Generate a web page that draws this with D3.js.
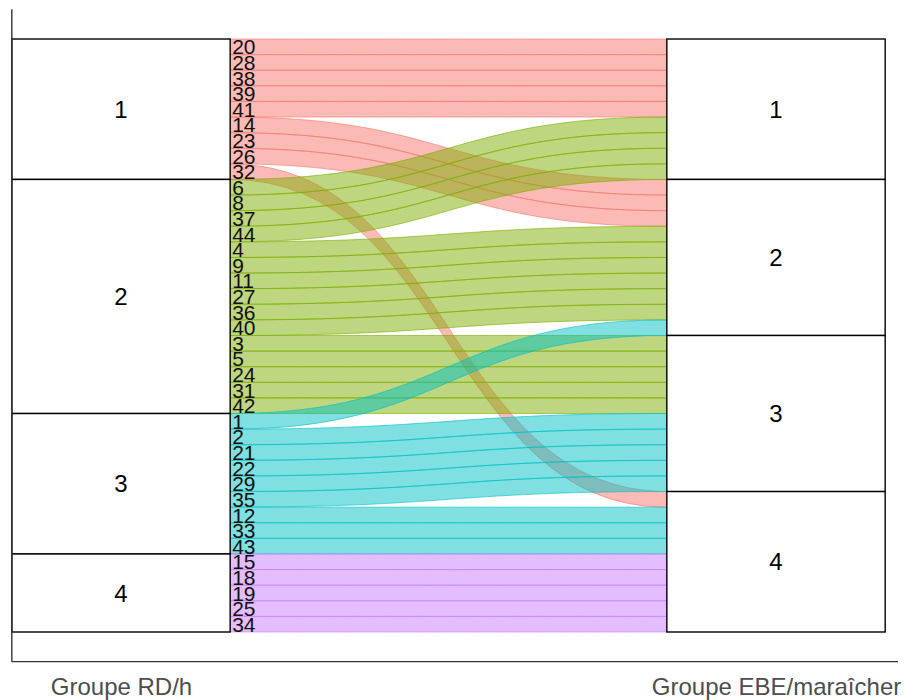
<!DOCTYPE html>
<html>
<head>
<meta charset="utf-8">
<script src="https://cdn.jsdelivr.net/npm/d3@7"></script>
<style>
  html, body { margin: 0; padding: 0; background: #fff; }
  svg { display: block; font-family: Arial, "Liberation Sans", sans-serif; }
</style>
</head>
<body>
<div id="chart"></div>
<script>
// ---- data: one row per grower, in left-stratum order ----
var axisNames = ["Groupe RD/h", "Groupe EBE/maraîcher"];
var strata = ["1", "2", "3", "4"];
var ids = [20, 28, 38, 39, 41, 14, 23, 26, 32,
           6, 8, 37, 44, 4, 9, 11, 27, 36, 40, 3, 5, 24, 31, 42,
           1, 2, 21, 22, 29, 35, 12, 33, 43,
           15, 18, 19, 25, 34];
var groupRD = ["1", "1", "1", "1", "1", "1", "1", "1", "1",
               "2", "2", "2", "2", "2", "2", "2", "2", "2", "2", "2", "2", "2", "2", "2",
               "3", "3", "3", "3", "3", "3", "3", "3", "3",
               "4", "4", "4", "4", "4"];
var groupEBE = ["1", "1", "1", "1", "1", "2", "2", "2", "4",
                "1", "1", "1", "1", "2", "2", "2", "2", "2", "2", "3", "3", "3", "3", "3",
                "2", "3", "3", "3", "3", "3", "4", "4", "4",
                "4", "4", "4", "4", "4"];
var palette = ["#F8766D", "#7CAE00", "#00BFC4", "#C77CFF"];

(function () {
  "use strict";
  var W = 904, H = 700;
  var svg = d3.select("#chart").append("svg").attr("width", W).attr("height", H);

  var n = ids.length;
  var rows = ids.map(function (id, i) {
    return { id: id, rd: groupRD[i], ebe: groupEBE[i], i: i };
  });

  // left stack follows data order, right stack sorted by (EBE, RD, left order)
  rows.forEach(function (d, k) { d.left = k; });
  rows.slice().sort(function (a, b) {
    return d3.ascending(a.ebe, b.ebe) || d3.ascending(a.rd, b.rd) || d3.ascending(a.i, b.i);
  }).forEach(function (d, k) { d.right = k; });

  var x = d3.scalePoint().domain(axisNames).range([121, 776]);
  var half = (x(axisNames[1]) - x(axisNames[0])) / 6;    // stratum width 1/3
  var pad = n * 0.05;
  var y = d3.scaleLinear().domain([0, n]).range([39, 632]);
  var color = d3.scaleOrdinal().domain(strata).range(palette);

  var x0 = x(axisNames[0]) + half, x1 = x(axisNames[1]) - half, xm = (x0 + x1) / 2;

  // ---- flows ----
  function flowPath(d) {
    var a0 = y(d.left), a1 = y(d.left + 1), b0 = y(d.right), b1 = y(d.right + 1);
    return "M" + x0 + "," + a0 +
      "C" + xm + "," + a0 + " " + xm + "," + b0 + " " + x1 + "," + b0 +
      "L" + x1 + "," + b1 +
      "C" + xm + "," + b1 + " " + xm + "," + a1 + " " + x0 + "," + a1 + "Z";
  }
  svg.append("g").selectAll("path").data(rows).enter().append("path")
    .attr("d", flowPath)
    .attr("fill", function (d) { return color(d.rd); }).attr("fill-opacity", 0.5)
    .attr("stroke", function (d) { return color(d.rd); }).attr("stroke-opacity", 0.6)
    .attr("stroke-width", 1);

  // ---- strata boxes ----
  function stack(key) {
    return strata.map(function (s) {
      var mine = rows.filter(function (d) { return d[key === "left" ? "rd" : "ebe"] === s; });
      var lo = d3.min(mine, function (d) { return d[key]; });
      return { s: s, lo: lo, hi: lo + mine.length };
    });
  }
  [["left", axisNames[0]], ["right", axisNames[1]]].forEach(function (side) {
    var g = svg.append("g");
    var st = stack(side[0]);
    g.selectAll("rect").data(st).enter().append("rect")
      .attr("x", x(side[1]) - half).attr("width", half * 2)
      .attr("y", function (d) { return y(d.lo); })
      .attr("height", function (d) { return y(d.hi) - y(d.lo); })
      .attr("fill", "#fff").attr("stroke", "#000").attr("stroke-width", 1.4);
    g.selectAll("text").data(st).enter().append("text")
      .attr("x", x(side[1])).attr("y", function (d) { return y((d.lo + d.hi) / 2); })
      .attr("dy", "0.36em").attr("text-anchor", "middle")
      .attr("font-size", 24).attr("fill", "#000")
      .text(function (d) { return d.s; });
  });

  // ---- id labels on the left side of the flows ----
  svg.append("g").selectAll("text").data(rows).enter().append("text")
    .attr("x", x0 + 2).attr("y", function (d) { return y(d.left + 0.5); })
    .attr("dy", "0.36em").attr("font-size", 21).attr("fill", "#111")
    .text(function (d) { return d.id; });

  // ---- axes ----
  var top = y(-pad), bottom = y(n + pad), left = x0 - half * 2;
  svg.append("line").attr("x1", left).attr("x2", left).attr("y1", top).attr("y2", bottom)
    .attr("stroke", "#333").attr("stroke-width", 1.4);
  var ax = svg.append("g").attr("transform", "translate(0," + bottom + ")")
    .call(d3.axisBottom(x).tickSize(0).tickPadding(16));
  ax.select(".domain").attr("d", "M" + left + ",0H" + (W - 6)).attr("stroke", "#333").attr("stroke-width", 1.4);
  ax.selectAll("text").attr("font-size", 24).attr("fill", "#4D4D4D")
    .attr("font-family", "Arial, 'Liberation Sans', sans-serif");
})();
</script>
</body>
</html>
